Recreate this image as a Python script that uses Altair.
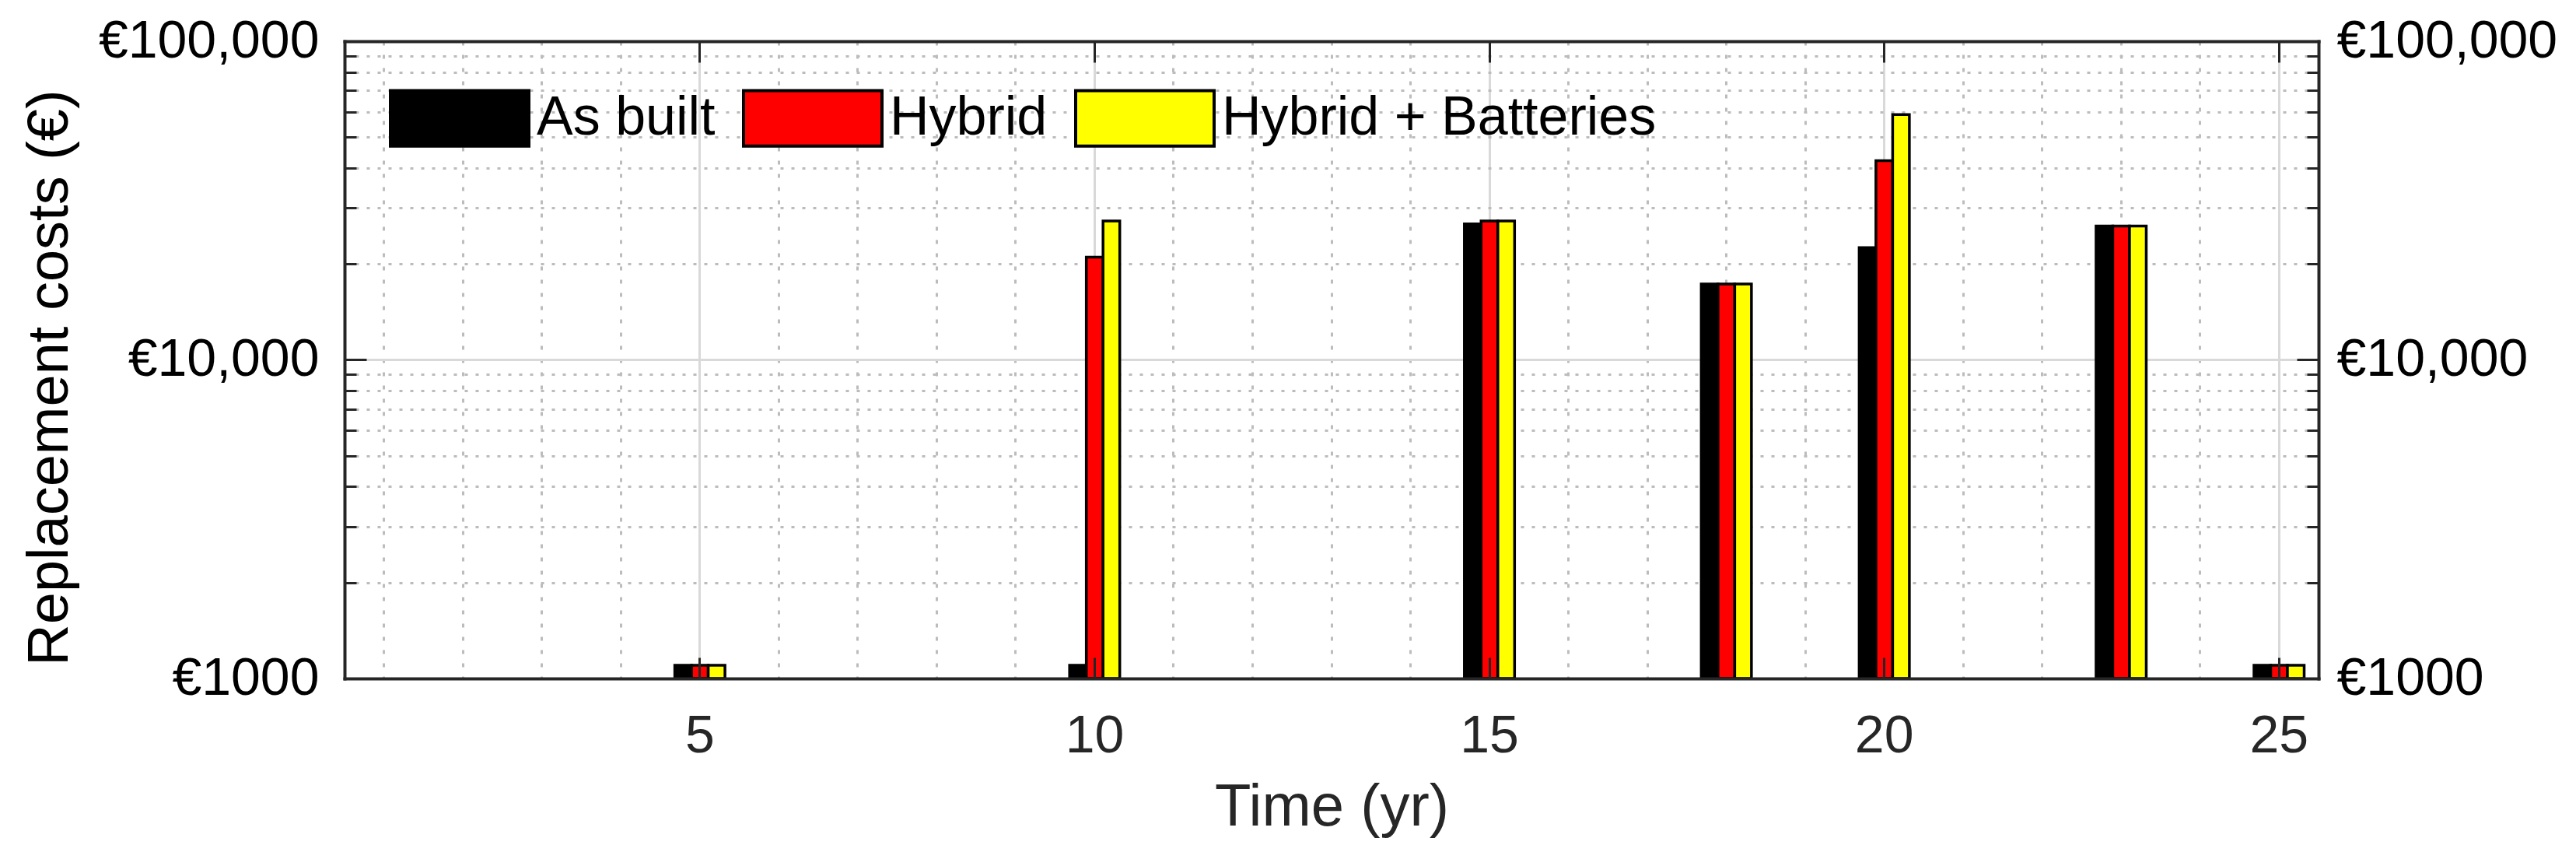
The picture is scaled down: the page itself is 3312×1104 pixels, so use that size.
import altair as alt
import pandas as pd

# replacement cost per year (EUR)
years = [5, 10, 15, 18, 20, 23, 25]
as_built = [1100, 1100, 26700, 17300, 22500, 26300, 1100]
hybrid = [1100, 21000, 27300, 17300, 42200, 26300, 1100]
hybrid_batteries = [1100, 27300, 27300, 17300, 58900, 26300, 1100]

series = ["As built", "Hybrid", "Hybrid + Batteries"]
colors = ["#000000", "#ff0000", "#ffff00"]

all_years = list(range(1, 26))
x_major = [5, 10, 15, 20, 25]
y_ticks = [1000, 2000, 3000, 4000, 5000, 6000, 7000, 8000, 9000,
           10000, 20000, 30000, 40000, 50000, 60000, 70000, 80000, 90000,
           100000]

W, H = 2538, 819
FONT = "Liberation Sans"
DARK = "#262626"

rows = []
for name, vals in zip(series, [as_built, hybrid, hybrid_batteries]):
    for yr, v in zip(years, vals):
        rows.append({"year": yr, "series": name, "cost": v})
df = pd.DataFrame(rows)

x_scale = alt.Scale(type="band", domain=all_years, paddingInner=0, paddingOuter=0)
y_scale = alt.Scale(type="log", domain=[1000, 100000], nice=False)

major_y = "indexof([1000, 10000, 100000], datum.value) >= 0"
major_x = "datum.value % 5 == 0"
y_label_expr = (
    "datum.value == 1000 ? '€1000' : (" + major_y + ") ? '€' + format(datum.value, ',') : ''"
)

bars = (
    alt.Chart(df)
    .mark_bar(stroke="black", strokeWidth=3.5)
    .encode(
        x=alt.X(
            "year:O",
            scale=x_scale,
            axis=alt.Axis(
                orient="bottom", values=all_years, title="Time (yr)",
                grid=True, bandPosition=0.5, gridWidth=3,
                gridColor={"condition": {"test": major_x, "value": "#d9d9d9"}, "value": "#bcbcbc"},
                gridDash={"condition": {"test": major_x, "value": []}, "value": [5, 12]},
                ticks=False, tickSize=0, domain=False,
                labelExpr=f"({major_x}) ? datum.label : ''", labelAngle=0,
                labelFont=FONT, labelFontSize=68, labelColor=DARK, labelPadding=40,
                labelOverlap=False,
                titleFont=FONT, titleFontSize=76, titleFontWeight="normal", titleColor=DARK,
                titleY=188, titleBaseline="alphabetic",
            ),
        ),
        xOffset=alt.XOffset(
            "series:N", scale=alt.Scale(domain=series, paddingInner=0, paddingOuter=0.86)
        ),
        y=alt.Y(
            "cost:Q",
            scale=y_scale,
            axis=alt.Axis(
                orient="left", values=y_ticks, title="Replacement costs (€)",
                grid=True, gridWidth=3,
                gridColor={"condition": {"test": major_y, "value": "#d9d9d9"}, "value": "#bcbcbc"},
                gridDash={"condition": {"test": major_y, "value": []}, "value": [4, 10]},
                ticks=False, tickSize=0, domain=False,
                labelExpr=y_label_expr, labelFont=FONT, labelFontSize=68, labelColor="black",
                labelPadding=33, labelOverlap=False, labelLimit=600,
                titleFont=FONT, titleFontSize=74, titleFontWeight="normal", titleColor="black",
                titleX=-357, titleY=432, titleBaseline="alphabetic", titleAlign="center",
            ),
        ),
        y2=alt.datum(1000),
        color=alt.Color(
            "series:N",
            scale=alt.Scale(domain=series, range=colors),
            legend=alt.Legend(
                title=None, orient="none", legendX=57, legendY=8,
                direction="horizontal", columns=3, padding=0,
                symbolType="M-1,-0.4H1V0.4H-1Z", symbolSize=31684,
                symbolStrokeColor="black", symbolStrokeWidth=4, symbolOpacity=1,
                labelFont=FONT, labelFontSize=70, labelColor="black",
                labelOffset=8, labelLimit=900, columnPadding=28,
            ),
        ),
    )
)


def tick_layer(x_orient, y_orient):
    # inward ticks and frame line: an axis on the opposite edge, moved across the plot
    y_tick_size = {"condition": {"test": major_y, "value": 28}, "value": 15}
    return (
        alt.Chart(df)
        .mark_bar(opacity=0)
        .encode(
            x=alt.X(
                "year:O", scale=x_scale,
                axis=alt.Axis(
                    orient=x_orient, offset=-H, values=x_major, bandPosition=0.5,
                    labels=False, ticks=True, tickSize=27, tickWidth=3, tickColor=DARK,
                    grid=False, domain=True, domainColor=DARK, domainWidth=4,
                    domainCap="square", title=None, zindex=1,
                ),
            ),
            y=alt.Y(
                "cost:Q", scale=y_scale,
                axis=alt.Axis(
                    orient=y_orient, offset=-W, values=y_ticks,
                    labels=False, ticks=True, tickSize=y_tick_size, tickWidth=3,
                    tickColor=DARK, grid=False, domain=True, domainColor=DARK,
                    domainWidth=4, domainCap="square", title=None, zindex=1,
                ),
            ),
            y2=alt.datum(1000),
        )
    )


right_labels = (
    alt.Chart(df)
    .mark_bar(opacity=0)
    .encode(
        x=alt.X("year:O", scale=x_scale, axis=None),
        y=alt.Y(
            "cost:Q", scale=y_scale,
            axis=alt.Axis(
                orient="right", values=y_ticks, labelExpr=y_label_expr,
                ticks=False, tickSize=0, domain=False, grid=False, title=None,
                labelFont=FONT, labelFontSize=68, labelColor="black",
                labelPadding=23, labelOverlap=False, labelLimit=600,
            ),
        ),
        y2=alt.datum(1000),
    )
)

chart = (
    alt.layer(bars, tick_layer("top", "right"), tick_layer("bottom", "left"), right_labels)
    .resolve_axis(x="independent", y="independent")
    .properties(
        width=W,
        height=H,
        autosize=alt.AutoSizeParams(type="none"),
        padding={"left": 435, "top": 45, "right": 310, "bottom": 225},
    )
    .configure(font=FONT)
    .configure_view(stroke=None)
)

chart.save("out.html", embed_options={"renderer": "svg", "actions": False})
